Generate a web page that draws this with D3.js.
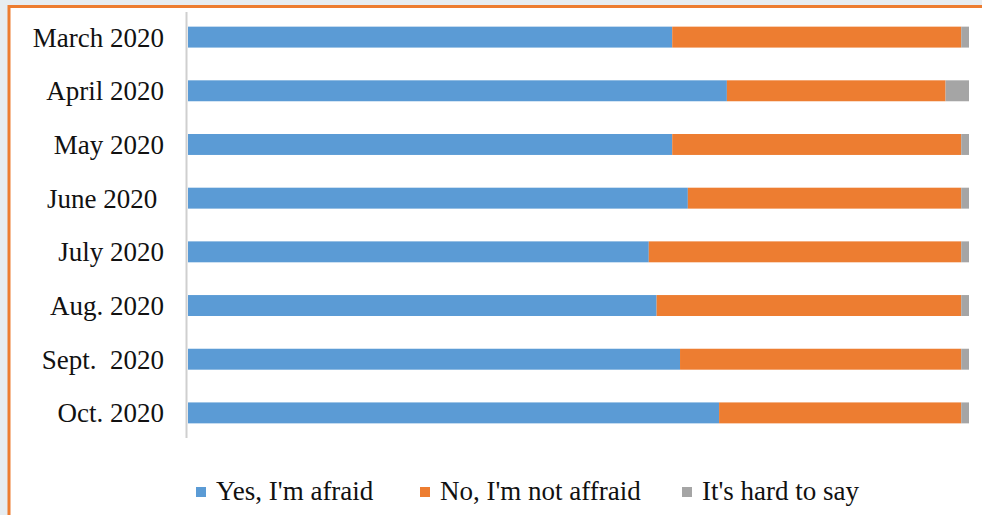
<!DOCTYPE html>
<html lang="en">
<head>
<meta charset="UTF-8">
<title>Fear survey 2020</title>
<script src="https://d3js.org/d3.v7.min.js"></script>
<style>
  html, body { margin: 0; padding: 0; background: #e7edf1; }
  #chart { display: block; }
  text { font-family: "Liberation Serif", "Times New Roman", serif; fill: #111; white-space: pre; }
</style>
</head>
<body>
<svg id="chart" width="982" height="515"></svg>
<script>
// months as shown on the axis (labels kept as in the picture)
const months = ["March 2020", "April 2020", "May 2020", "June 2020 ", "July 2020", "Aug. 2020", "Sept.  2020", "Oct. 2020"];
const afraid    = [62, 69, 62, 64, 59, 60, 63, 68];
const notAfraid = [37, 28, 37, 35, 40, 39, 36, 31];
const hardToSay = [1, 3, 1, 1, 1, 1, 1, 1];
const seriesNames = ["Yes, I'm afraid", "No, I'm not affraid", "It's hard to say"];
const colors = ["#5b9bd5", "#ed7d31", "#a5a5a5"];

const svg = d3.select("#chart");
const W = 982, H = 515;

// white panel with orange frame
svg.append("rect")
  .attr("x", 9).attr("y", 6.5)
  .attr("width", W + 20).attr("height", H + 20)
  .attr("fill", "#ffffff")
  .attr("stroke", "#ed7d31")
  .attr("stroke-width", 3);

const rows = months.map((m, i) => ({month: m, a: afraid[i], b: notAfraid[i], c: hardToSay[i]}));
const stack = d3.stack().keys(["a", "b", "c"]).offset(d3.stackOffsetExpand)(rows);

const x = d3.scaleLinear().domain([0, 1]).range([188, 969]);
const y = d3.scaleBand().domain(months).range([10, 440]).paddingInner(0.61).paddingOuter(0.31);

svg.append("g")
  .selectAll("g")
  .data(stack)
  .join("g")
  .attr("fill", (d, i) => colors[i])
  .selectAll("rect")
  .data(d => d)
  .join("rect")
  .attr("x", d => x(d[0]))
  .attr("width", d => x(d[1]) - x(d[0]))
  .attr("y", d => y(d.data.month))
  .attr("height", y.bandwidth());

// vertical axis line
svg.append("line")
  .attr("x1", 186.5).attr("x2", 186.5)
  .attr("y1", 12).attr("y2", 438)
  .attr("stroke", "#cfcfcf").attr("stroke-width", 2);

svg.append("g")
  .selectAll("text")
  .data(months)
  .join("text")
  .attr("x", 164)
  .attr("y", d => y(d) + y.bandwidth() / 2)
  .attr("dy", "0.35em")
  .attr("text-anchor", "end")
  .attr("font-size", 27)
  .text(d => d);

// legend
const legendX = [196, 420, 682];
const legend = svg.append("g")
  .selectAll("g")
  .data(seriesNames)
  .join("g")
  .attr("transform", (d, i) => `translate(${legendX[i]},491)`);
legend.append("rect")
  .attr("x", 0).attr("y", -4)
  .attr("width", 10).attr("height", 10)
  .attr("fill", (d, i) => colors[i]);
legend.append("text")
  .attr("x", 20).attr("y", 0)
  .attr("dy", "0.35em")
  .attr("font-size", 27)
  .text(d => d);
</script>
</body>
</html>
